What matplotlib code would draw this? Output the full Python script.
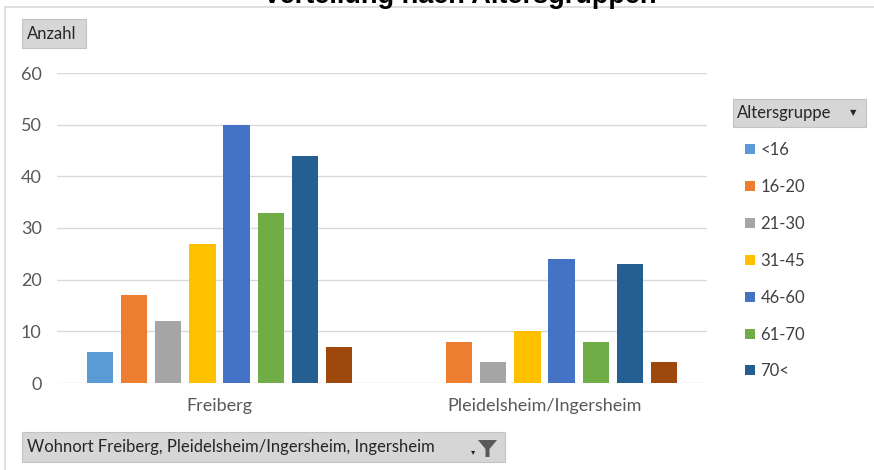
import matplotlib
matplotlib.use("Agg")
import matplotlib.pyplot as plt
from matplotlib.patches import Rectangle, Polygon
import numpy as np

# data
orte = ["Freiberg", "Pleidelsheim/Ingersheim"]
gruppen = ["<16", "16-20", "21-30", "31-45", "46-60", "61-70", "70<", "k.A."]
freiberg = [6, 17, 12, 27, 50, 33, 44, 7]
pleidelsheim = [0, 8, 4, 10, 24, 8, 23, 4]
farben = ["#5B9BD5", "#ED7D31", "#A5A5A5", "#FFC000",
          "#4472C4", "#70AD47", "#255E91", "#9E480E"]
yticks = [0, 10, 20, 30, 40, 50, 60]

plt.rcParams["font.family"] = ["Lato", "DejaVu Sans"]

W, H = 874, 470
fig = plt.figure(figsize=(W / 100, H / 100), dpi=100)

def fx(px):
    return px / W

def fy(py):
    return 1 - py / H

# plot area
ax = fig.add_axes([fx(57), fy(383), fx(707 - 57), fy(73) - fy(383)])
werte = np.array([freiberg, pleidelsheim])
x = np.arange(len(orte))
pitch = 0.105
breite = 0.081
n = len(gruppen)
for i, g in enumerate(gruppen):
    off = (i - (n - 1) / 2) * pitch
    lab = g if i < 7 else "_" + g  # last series is cut off from the legend
    ax.bar(x + off, werte[:, i], width=breite, color=farben[i], label=lab, zorder=3)

ax.set_xlim(-0.5, 1.5)
ax.set_ylim(0, 60)
ax.set_yticks(yticks)
ax.set_xticks(x)
ax.set_xticklabels(orte)
ax.grid(axis="y", color="#D9D9D9", lw=1, zorder=0)
for s in ax.spines.values():
    s.set_visible(False)
ax.tick_params(length=0, labelsize=13, labelcolor="#595959")
ax.tick_params(axis="y", pad=11)
ax.tick_params(axis="x", pad=11)

# legend
leg = ax.legend(loc="upper left", bbox_to_anchor=(fx(737), fy(134)),
                bbox_transform=fig.transFigure, frameon=False, fontsize=12,
                handlelength=0.55, handleheight=0.55, handletextpad=0.35,
                labelspacing=1.25, borderpad=0)
for t in leg.get_texts():
    t.set_color("#404040")

# chart border
fig.add_artist(plt.Line2D([fx(5), 1], [fy(6.5), fy(6.5)], color="#D9D9D9", lw=1.2))
fig.add_artist(plt.Line2D([fx(5), fx(5)], [fy(6.5), 0], color="#D9D9D9", lw=1.2))

# title (cut off at top)
fig.text(fx(460), fy(3), "Verteilung nach Altersgruppen", ha="center", va="baseline",
         fontsize=19.5, fontweight="bold", family="Liberation Sans", color="#000000")

# field buttons
def knopf(x0, y0, x1, y1):
    fig.add_artist(Rectangle((fx(x0), fy(y1)), fx(x1 - x0), fy(y0) - fy(y1),
                             transform=fig.transFigure, facecolor="#D6D6D6",
                             edgecolor="#C3C3C3", lw=0.8))

knopf(22, 19, 86, 48)
fig.text(fx(27), fy(34), "Anzahl", ha="left", va="center", fontsize=12, color="#262626")

knopf(733, 99, 866, 127)
fig.text(fx(737), fy(113), "Altersgruppe", ha="left", va="center", fontsize=12, color="#262626")
fig.text(fx(853), fy(113), "▼", ha="center", va="center", fontsize=6,
         family="DejaVu Sans", color="#262626")

knopf(22, 432, 505, 462)
fig.text(fx(27), fy(447), "Wohnort Freiberg, Pleidelsheim/Ingersheim, Ingersheim",
         ha="left", va="center", fontsize=12, color="#262626")
# filter icon
fig.add_artist(Polygon([[fx(478), fy(440)], [fx(497), fy(440)], [fx(489.5), fy(449)],
                        [fx(489.5), fy(457)], [fx(485.5), fy(457)], [fx(485.5), fy(449)]],
                       closed=True, transform=fig.transFigure, facecolor="#595959",
                       edgecolor="none"))
fig.text(fx(473), fy(452), "▾", ha="center", va="center", fontsize=6,
         family="DejaVu Sans", color="#262626")

fig.savefig("out.png", dpi=100)
